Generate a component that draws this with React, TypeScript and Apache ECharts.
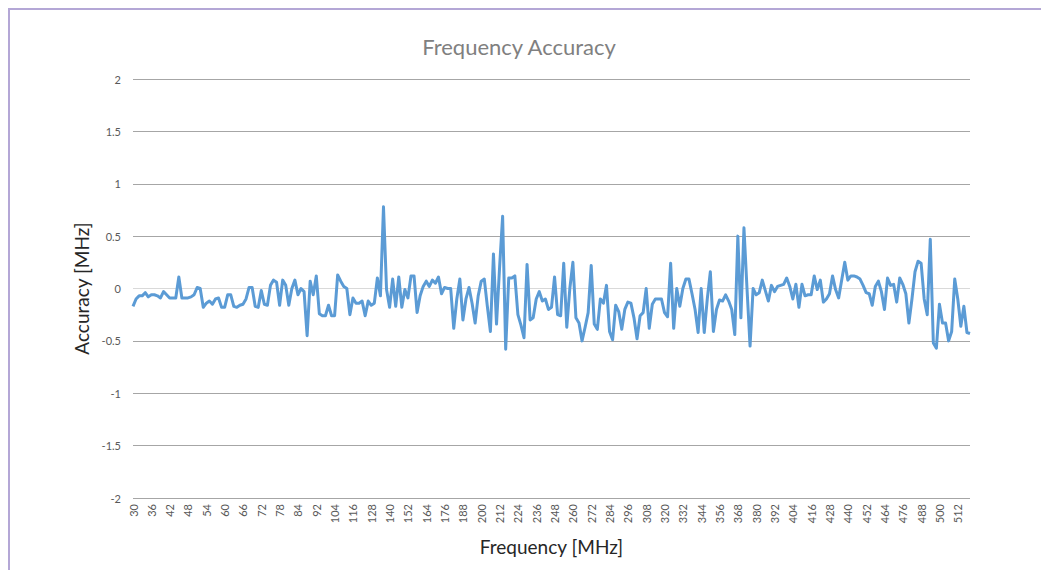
import React, { useEffect, useRef } from "react";
import * as echarts from "echarts";

// Frequencies (MHz): 1 MHz steps up to 88, then 2 MHz steps
const freqLowBand = [
  30, 31, 32, 33, 34, 35, 36, 37, 38, 39, 40, 41, 42, 43, 44, 45, 46, 47, 48, 49,
  50, 51, 52, 53, 54, 55, 56, 57, 58, 59, 60, 61, 62, 63, 64, 65, 66, 67, 68, 69,
  70, 71, 72, 73, 74, 75, 76, 77, 78, 79, 80, 81, 82, 83, 84, 85, 86, 87, 88,
];
const freqHighBand = [
  90, 92, 94, 96, 98, 100, 102, 104, 106, 108, 110, 112, 114, 116, 118, 120, 122, 124, 126, 128,
  130, 132, 134, 136, 138, 140, 142, 144, 146, 148, 150, 152, 154, 156, 158, 160, 162, 164, 166, 168,
  170, 172, 174, 176, 178, 180, 182, 184, 186, 188, 190, 192, 194, 196, 198, 200, 202, 204, 206, 208,
  210, 212, 214, 216, 218, 220, 222, 224, 226, 228, 230, 232, 234, 236, 238, 240, 242, 244, 246, 248,
  250, 252, 254, 256, 258, 260, 262, 264, 266, 268, 270, 272, 274, 276, 278, 280, 282, 284, 286, 288,
  290, 292, 294, 296, 298, 300, 302, 304, 306, 308, 310, 312, 314, 316, 318, 320, 322, 324, 326, 328,
  330, 332, 334, 336, 338, 340, 342, 344, 346, 348, 350, 352, 354, 356, 358, 360, 362, 364, 366, 368,
  370, 372, 374, 376, 378, 380, 382, 384, 386, 388, 390, 392, 394, 396, 398, 400, 402, 404, 406, 408,
  410, 412, 414, 416, 418, 420, 422, 424, 426, 428, 430, 432, 434, 436, 438, 440, 442, 444, 446, 448,
  450, 452, 454, 456, 458, 460, 462, 464, 466, 468, 470, 472, 474, 476, 478, 480, 482, 484, 486, 488,
  490, 492, 494, 496, 498, 500, 502, 504, 506, 508, 510, 512, 514, 516, 518, 520,
];

// Accuracy (MHz), one value per frequency
const accuracyMHz = [
  -0.17, -0.10, -0.07, -0.07, -0.04, -0.08, -0.06, -0.06, -0.07, -0.09,
  -0.03, -0.06, -0.09, -0.09, -0.09, 0.11, -0.09, -0.09, -0.09, -0.08,
  -0.06, 0.01, 0.00, -0.18, -0.14, -0.12, -0.15, -0.10, -0.09, -0.18,
  -0.18, -0.06, -0.06, -0.17, -0.18, -0.16, -0.15, -0.10, 0.01, 0.01,
  -0.17, -0.18, -0.02, -0.15, -0.16, 0.03, 0.08, 0.06, -0.16, 0.08,
  0.03, -0.16, 0.00, 0.08, -0.06, 0.00, -0.03, -0.45, 0.07, -0.06,
  0.12, -0.24, -0.26, -0.26, -0.16, -0.26, -0.26, 0.13, 0.07, 0.02,
  0.00, -0.25, -0.09, -0.14, -0.14, -0.12, -0.26, -0.12, -0.16, -0.14,
  0.10, -0.07, 0.78, -0.01, -0.18, 0.09, -0.17, 0.11, -0.18, -0.01,
  -0.09, 0.12, 0.12, -0.23, -0.07, 0.02, 0.07, 0.02, 0.08, 0.05,
  0.11, -0.05, 0.01, 0.00, 0.00, -0.38, -0.10, 0.09, -0.30, -0.10,
  0.01, -0.14, -0.33, -0.07, 0.07, 0.09, -0.17, -0.41, 0.33, -0.34,
  0.20, 0.69, -0.58, 0.10, 0.10, 0.12, -0.25, -0.35, -0.47, 0.23,
  -0.30, -0.28, -0.10, -0.03, -0.12, -0.10, -0.20, -0.18, 0.11, -0.25,
  -0.26, 0.24, -0.37, 0.00, 0.25, -0.28, -0.33, -0.50, -0.37, -0.23,
  0.22, -0.34, -0.39, -0.10, -0.14, 0.03, -0.41, -0.49, -0.16, -0.22,
  -0.39, -0.20, -0.13, -0.14, -0.28, -0.48, -0.26, -0.23, 0.00, -0.38,
  -0.15, -0.10, -0.10, -0.10, -0.23, -0.27, 0.24, -0.38, 0.00, -0.17,
  0.00, 0.09, 0.09, -0.05, -0.20, -0.42, 0.00, -0.42, -0.10, 0.16,
  -0.41, -0.20, -0.11, -0.12, -0.06, -0.12, -0.20, -0.44, 0.50, -0.28,
  0.58, 0.00, -0.55, 0.00, -0.06, -0.04, 0.08, -0.02, -0.12, 0.03,
  -0.03, 0.02, 0.03, 0.04, 0.10, 0.02, -0.10, 0.04, -0.18, 0.04,
  -0.07, -0.06, -0.06, 0.12, -0.01, 0.08, -0.13, -0.10, -0.05, 0.12,
  -0.01, -0.09, 0.08, 0.25, 0.08, 0.12, 0.12, 0.11, 0.09, 0.03,
  -0.04, -0.05, -0.16, 0.02, 0.07, -0.03, -0.20, 0.10, 0.03, 0.04,
  -0.13, 0.10, 0.04, -0.05, -0.33, -0.10, 0.16, 0.26, 0.24, -0.10,
  -0.25, 0.47, -0.52, -0.57, -0.15, -0.33, -0.33, -0.50, -0.41, 0.09,
  -0.10, -0.36, -0.17, -0.42, -0.43,
];

const frequencyMHz = [...freqLowBand, ...freqHighBand].map(String);

// y gridlines from -2 to 2 (index 4 is the zero line, drawn lighter)
const gridLineColors = [
  "#a6a6a6", "#a6a6a6", "#a6a6a6", "#a6a6a6", "#d9d9d9",
  "#a6a6a6", "#a6a6a6", "#a6a6a6", "#a6a6a6",
];

const FONT = "Lato, 'Open Sans', sans-serif";

export default function App() {
  const ref = useRef<HTMLDivElement>(null);

  useEffect(() => {
    if (!ref.current) return;
    const chart = echarts.init(ref.current, null, { renderer: "svg" });
    chart.setOption({
      animation: false,
      backgroundColor: "#ffffff",
      textStyle: { fontFamily: FONT },
      title: {
        text: "Frequency Accuracy",
        left: 509,
        top: 25,
        padding: 0,
        textAlign: "center",
        textStyle: {
          fontFamily: FONT,
          fontSize: 22,
          fontWeight: "normal",
          color: "#808080",
        },
      },
      grid: { left: 123, top: 69, width: 837, height: 419 },
      xAxis: {
        type: "category",
        data: frequencyMHz,
        boundaryGap: false,
        axisLine: { show: false },
        axisTick: { show: false },
        splitLine: { show: false },
        axisLabel: {
          interval: 5,
          rotate: 90,
          margin: 6,
          fontFamily: FONT,
          fontSize: 11,
          color: "#595959",
        },
        name: "Frequency [MHz]",
        nameLocation: "middle",
        nameGap: 39,
        nameTextStyle: { fontFamily: FONT, fontSize: 19, color: "#262626" },
      },
      yAxis: {
        type: "value",
        min: -2,
        max: 2,
        interval: 0.5,
        axisLine: { show: false },
        axisTick: { show: false },
        axisLabel: {
          margin: 12,
          fontFamily: FONT,
          fontSize: 11,
          color: "#595959",
        },
        splitLine: { show: true, lineStyle: { color: gridLineColors, width: 1 } },
        name: "Accuracy [MHz]",
        nameLocation: "middle",
        nameGap: 38,
        nameTextStyle: { fontFamily: FONT, fontSize: 19, color: "#262626" },
      },
      series: [
        {
          type: "line",
          data: accuracyMHz,
          showSymbol: false,
          symbol: "none",
          lineStyle: { color: "#5b9bd5", width: 3, join: "round" },
          itemStyle: { color: "#5b9bd5" },
        },
      ],
    });
    return () => chart.dispose();
  }, []);

  return (
    <div
      style={{
        width: 1038,
        height: 562,
        border: "2px solid #b4a7d6",
        borderBottom: "none",
        boxSizing: "border-box",
        background: "#ffffff",
      }}
    >
      <div ref={ref} style={{ width: 1034, height: 560 }} />
    </div>
  );
}
